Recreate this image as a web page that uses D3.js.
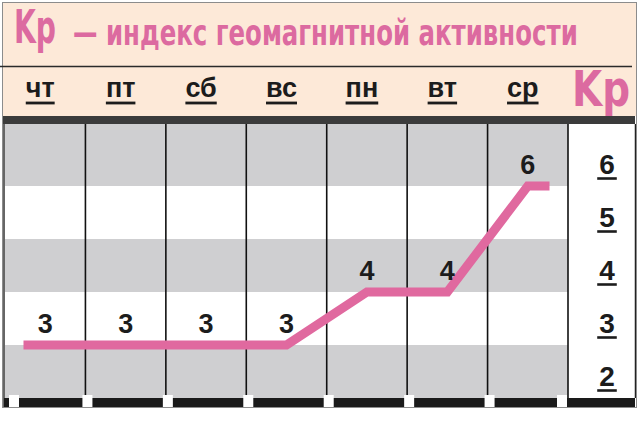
<!DOCTYPE html>
<html><head><meta charset="utf-8">
<script src="https://cdn.jsdelivr.net/npm/d3@7"></script>
<style>html,body{margin:0;padding:0;background:#fff;}svg{display:block;}</style>
</head><body>
<svg id="c" width="640" height="424"></svg>
<script>
const days = ["чт","пт","сб","вс","пн","вт","ср"];
const kp = [3,3,3,3,4,4,6];
const kpTicks = [2,3,4,5,6];
const grayLevels = [2,4,6];
const titleMain = "Kp";
const titleRest = "— индекс геомагнитной активности";
const axisTitle = "Kp";

const pink = "#dc6aa0";
const lineCol = "#e0699f";
const gray = "#cfcfd1";
const peach = "#fde9d8";
const ink = "#1c1c1c";
const condensed = "'Liberation Sans Narrow','DejaVu Sans Condensed','Arial Narrow',sans-serif";
const sans = "'Liberation Sans',Arial,Helvetica,sans-serif";

const svg = d3.select("#c");
const plotL = 5, plotR = 568, plotT = 124, plotB = 398, colR = 635;

const x = d3.scaleBand().domain(days).range([plotL, plotR]);
const bw = x.bandwidth();
const y = d3.scaleLinear().domain([2,7]).range([plotB, 133]);
const xc = i => x(days[i]) + bw/2;

// header background
svg.append("rect").attr("x",2).attr("y",2).attr("width",635).attr("height",114).attr("fill",peach);
// plot background
svg.append("rect").attr("x",plotL).attr("y",plotT).attr("width",plotR-plotL).attr("height",plotB-plotT).attr("fill","#fff");

// gray bands
const topVal = y.invert(plotT);
const maxLevel = d3.max(grayLevels);
const upper = d => d === maxLevel ? topVal : d + 1;
svg.selectAll("rect.band").data(grayLevels).join("rect").attr("class","band")
  .attr("x",plotL).attr("width",plotR-plotL)
  .attr("y",d=>y(upper(d)))
  .attr("height",d=>y(d)-y(upper(d)))
  .attr("fill",gray);

// Kp column
svg.append("rect").attr("x",plotR).attr("y",plotT).attr("width",colR-plotR).attr("height",plotB-plotT).attr("fill","#fff");

// vertical separators
const bounds = days.map(d=>x(d)).concat([plotR]);
svg.selectAll("line.sep").data(bounds.slice(1)).join("line").attr("class","sep")
  .attr("x1",d=>d).attr("x2",d=>d).attr("y1",plotT).attr("y2",plotB)
  .attr("stroke","#111").attr("stroke-width",1.6);
svg.append("line").attr("x1",4).attr("x2",4).attr("y1",116).attr("y2",407).attr("stroke","#333").attr("stroke-width",1.5);
svg.append("line").attr("x1",635.5).attr("x2",635.5).attr("y1",plotT).attr("y2",plotB).attr("stroke","#222").attr("stroke-width",1.5);

// dark band under header
svg.append("rect").attr("x",3).attr("y",116).attr("width",632).attr("height",8).attr("fill","#3b3b3b");

// bottom bar with gaps
svg.append("rect").attr("x",4).attr("y",plotB).attr("width",colR-4).attr("height",9).attr("fill","#1a1a1a");
svg.selectAll("rect.gap").data(bounds).join("rect").attr("class","gap")
  .attr("x",d=>Math.min(Math.max(d-3, 9), plotR-11))
  .attr("y",plotB-3).attr("width",10).attr("height",12).attr("fill","#fff");

// outer border
svg.append("rect").attr("x",2.5).attr("y",2.5).attr("width",634).attr("height",405)
  .attr("fill","none").attr("stroke","#8c8c8c").attr("stroke-width",1);

// title line
svg.append("line").attr("x1",0).attr("x2",632).attr("y1",66.5).attr("y2",66.5).attr("stroke","#2a2a2a").attr("stroke-width",1.6);

// fitted pink texts (scaled horizontally to the reference widths)
function fitted(txt, x0, y0, size, width){
  const g = svg.append("g");
  const t = g.append("text").text(txt)
    .attr("font-family",condensed).attr("font-weight","bold").attr("font-size",size).attr("fill",pink);
  const w = t.node().getComputedTextLength();
  g.attr("transform",`translate(${x0},${y0}) scale(${width/w},1)`);
  return g;
}
fitted(titleMain, 14, 43, 46, 42);
fitted(titleRest, 73, 45, 35, 505);
fitted(axisTitle, 572, 106, 50, 58);

// day labels with underline
const dl = svg.selectAll("g.day").data(days).join("g").attr("class","day")
  .attr("transform",d=>`translate(${x(d)+bw/2-5},97)`);
dl.append("text").text(d=>d).attr("text-anchor","middle")
  .attr("font-family",sans).attr("font-weight","bold").attr("font-size",27).attr("fill",ink);
dl.each(function(){
  const g = d3.select(this);
  const w = g.select("text").node().getComputedTextLength();
  g.append("line").attr("x1",-w/2).attr("x2",w/2).attr("y1",6).attr("y2",6).attr("stroke",ink).attr("stroke-width",2.8);
});

// right axis labels with underline
const al = svg.selectAll("g.tick").data(kpTicks).join("g").attr("class","tick")
  .attr("transform",d=>`translate(607,${y(d)-12})`);
al.append("text").text(d=>d).attr("text-anchor","middle")
  .attr("font-family",sans).attr("font-weight","bold").attr("font-size",28).attr("fill",ink);
al.each(function(){
  const g = d3.select(this);
  const w = g.select("text").node().getComputedTextLength();
  g.append("line").attr("x1",-w/2-2).attr("x2",w/2+2).attr("y1",4.5).attr("y2",4.5).attr("stroke",ink).attr("stroke-width",2.6);
});

// line
const ext = 0.27;
const pts = [[xc(0) - ext*bw, kp[0]]]
  .concat(kp.map((v,i)=>[xc(i), v]))
  .concat([[xc(kp.length-1) + ext*bw, kp[kp.length-1]]]);
svg.append("path").datum(pts)
  .attr("d", d3.line().x(d=>d[0]).y(d=>y(d[1])))
  .attr("fill","none").attr("stroke",lineCol).attr("stroke-width",9)
  .attr("stroke-linejoin","miter").attr("stroke-linecap","butt");

// data labels
svg.selectAll("text.val").data(kp).join("text").attr("class","val")
  .attr("x",(d,i)=>xc(i)).attr("y",d=>y(d)-12).text(d=>d)
  .attr("text-anchor","middle").attr("font-family",sans).attr("font-weight","bold")
  .attr("font-size",27).attr("fill",ink);
</script>
</body></html>
